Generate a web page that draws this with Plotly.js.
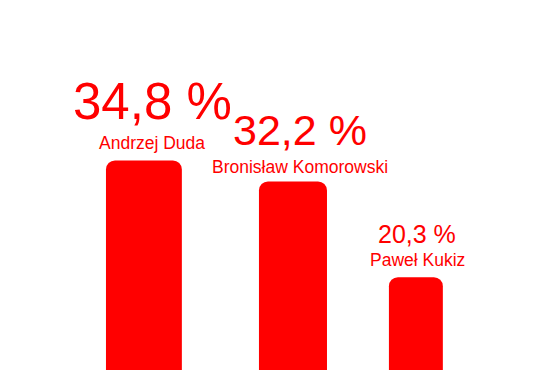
<!DOCTYPE html>
<html>
<head>
<meta charset="utf-8">
<script src="https://cdn.plot.ly/plotly-3.0.1.min.js"></script>
<style>html,body{margin:0;padding:0;background:#fff;}#chart{width:556px;height:370px;}</style>
</head>
<body>
<div id="chart"></div>
<script>
var candidates = ["Andrzej Duda", "Bronisław Komorowski", "Paweł Kukiz"];
var votes = [34.8, 32.2, 20.3];
var pctLabels = ["34,8 %", "32,2 %", "20,3 %"];

var RED = "#ff0000";
var FONT = "Liberation Sans, Arial, sans-serif";
var idx = candidates.map(function (_, i) { return i; });

var trace = {
  type: "bar",
  x: idx,
  y: votes,
  width: [0.56, 0.502, 0.398],
  offset: [-0.284, -0.155, -0.196],
  marker: { color: RED, cornerradius: 9, line: { width: 0 } },
  hoverinfo: "none"
};

var pctSizes = [51, 43, 25];
var pctShift = [28, 25, 27];
var nameShift = [5, 2, 5];
var labelX = [8, 20, 2];
var annotations = [];
idx.forEach(function (i) {
  annotations.push({
    x: i, y: votes[i], xref: "x", yref: "y",
    text: pctLabels[i], showarrow: false,
    xanchor: "center", yanchor: "bottom",
    xshift: labelX[i], yshift: pctShift[i],
    font: { family: FONT, size: pctSizes[i], color: RED }
  });
  annotations.push({
    x: i, y: votes[i], xref: "x", yref: "y",
    text: candidates[i], showarrow: false,
    xanchor: "center", yanchor: "bottom",
    xshift: labelX[i], yshift: nameShift[i],
    font: { family: FONT, size: 17.5, color: RED }
  });
});

var layout = {
  width: 556, height: 370,
  margin: { l: 0, r: 0, t: 0, b: 0, pad: 0 },
  paper_bgcolor: "#ffffff", plot_bgcolor: "#ffffff",
  showlegend: false,
  xaxis: { range: [-1.066, 3.037], visible: false, fixedrange: true },
  yaxis: { range: [8.76, 54.74], visible: false, fixedrange: true },
  annotations: annotations
};

Plotly.newPlot("chart", [trace], layout, { staticPlot: true, displayModeBar: false });
</script>
</body>
</html>
